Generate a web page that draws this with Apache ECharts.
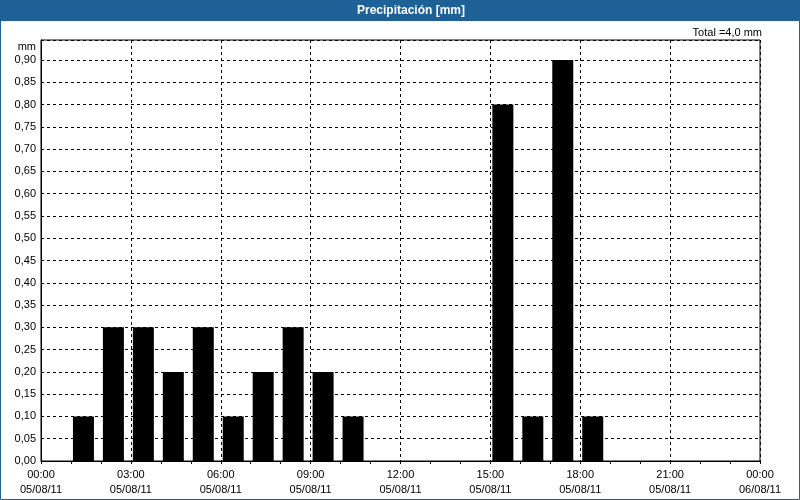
<!DOCTYPE html>
<html><head><meta charset="utf-8">
<script src="https://cdn.jsdelivr.net/npm/echarts@6/dist/echarts.min.js"></script>
<style>html,body{margin:0;padding:0;background:#fff}#c{width:800px;height:500px}</style>
</head><body><div id="c"></div>
<script>
const hours = ['00','01','02','03','04','05','06','07','08','09','10','11','12','13','14','15','16','17','18','19','20','21','22','23'];
const precip = [0,0.1,0.3,0.3,0.2,0.3,0.1,0.2,0.3,0.2,0.1,0,0,0,0,0.8,0.1,0.9,0.1,0,0,0,0,0];
const xTickTimes = ['00:00','03:00','06:00','09:00','12:00','15:00','18:00','21:00','00:00'];
const xTickDates = ['05/08/11','05/08/11','05/08/11','05/08/11','05/08/11','05/08/11','05/08/11','05/08/11','06/08/11'];
const titleText = 'Precipitación [mm]';
const unit = 'mm';

const total = precip.reduce((a,b)=>a+b,0);
const FONT = 'Liberation Sans';
const BLUE = '#1d6197';
const chart = echarts.init(document.getElementById('c'), null, {renderer:'canvas'});
chart.setOption({
  animation:false,
  backgroundColor:'#ffffff',
  textStyle:{fontFamily:FONT, fontSize:11, color:'#000'},
  graphic:[
    {type:'rect', shape:{x:0,y:0,width:800,height:21}, style:{fill:BLUE}, silent:true},
    {type:'rect', shape:{x:0.5,y:0.5,width:799,height:499}, style:{fill:null, stroke:BLUE, lineWidth:1}, silent:true},
    {type:'text', x:411, y:10.5, style:{text:titleText, fill:'#fff', font:'bold 12px "'+FONT+'"', textAlign:'center', textVerticalAlign:'middle'}},
    {type:'text', x:762, y:32.5, style:{text:'Total =' + total.toFixed(1).replace('.',',') + ' ' + unit, fill:'#000', font:'11px "'+FONT+'"', textAlign:'right', textVerticalAlign:'middle'}},
    {type:'text', x:36, y:47, style:{text:unit, fill:'#000', font:'11px "'+FONT+'"', textAlign:'right', textVerticalAlign:'middle'}}
  ],
  grid:{left:41, right:40, top:40, bottom:39, show:true, backgroundColor:'#fff', borderColor:'#000', borderWidth:1},
  xAxis:[
    {type:'category', data:hours, boundaryGap:true, show:false},
    {type:'value', min:0, max:24, interval:3, position:'bottom',
     axisLine:{show:true, lineStyle:{color:'#000'}},
     axisTick:{show:true, length:3, lineStyle:{color:'#000'}},
     minorTick:{show:true, splitNumber:3, length:3, lineStyle:{color:'#000'}},
     splitLine:{show:true, lineStyle:{color:'#000', type:[3,3], width:1}},
     axisLabel:{margin:6, lineHeight:15, color:'#000', fontFamily:FONT, fontSize:11,
       formatter:function(v){const i=Math.round(v/3); return xTickTimes[i]+'\n'+xTickDates[i];}}
    }
  ],
  yAxis:{type:'value', min:0, max:0.945, interval:0.05,
    axisLine:{show:true, lineStyle:{color:'#000'}},
    axisTick:{show:false},
    splitLine:{show:true, lineStyle:{color:'#000', type:[3,3], width:1}},
    axisLabel:{margin:5, color:'#000', fontFamily:FONT, fontSize:11, showMaxLabel:false,
      formatter:function(v){return v.toFixed(2).replace('.',',');}}
  },
  series:[
    {type:'bar', xAxisIndex:0, data:precip, barWidth:21, barGap:'0%', itemStyle:{color:'#000'}, silent:true},
    {type:'bar', xAxisIndex:0, data:[], barWidth:5, barGap:'0%', itemStyle:{color:'rgba(0,0,0,0)'}, silent:true}
  ]
});
</script></body></html>
